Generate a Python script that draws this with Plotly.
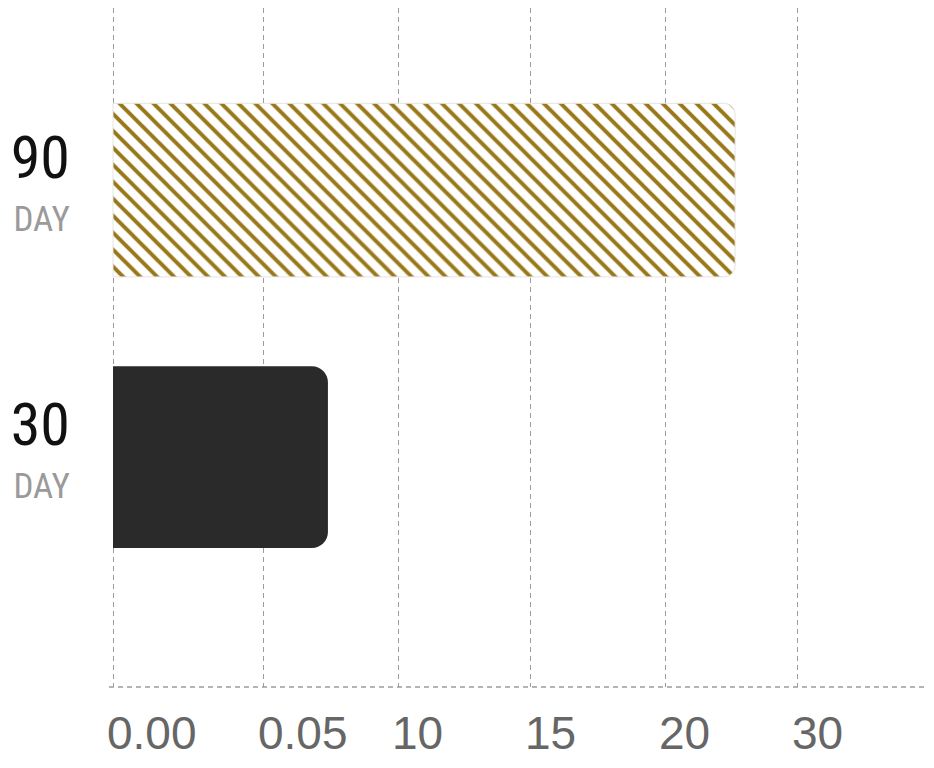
import plotly.graph_objects as go

# ---- data ----
categories = ["30", "90"]
category_sub = ["DAY", "DAY"]
bar_values = [1.61, 4.66]          # position along the (custom) x scale
tick_positions = [0, 1.131, 2.135, 3.131, 4.135, 5.131]
tick_labels = ["0.00", "0.05", "10", "15", "20", "30"]

GOLD = "#987818"
DARK = "#2a2a2a"
GRID = "#9c9c9c"

fig = go.Figure()

# 30 DAY bar (solid dark)
fig.add_trace(go.Bar(
    x=[bar_values[0]], y=[categories[0]], orientation="h",
    width=0.68,
    marker=dict(color=DARK, line=dict(width=0), cornerradius=16),
    showlegend=False, hoverinfo="x+y",
))

# 90 DAY bar (white with gold diagonal stripes)
fig.add_trace(go.Bar(
    x=[bar_values[1]], y=[categories[1]], orientation="h",
    width=0.65,
    marker=dict(
        color="white",
        line=dict(color="#e4e4e4", width=1),
        cornerradius=11,
        pattern=dict(shape="\\", fgcolor=GOLD, bgcolor="white",
                     size=12, solidity=0.33, fillmode="replace"),
    ),
    showlegend=False, hoverinfo="x+y",
))

ticktext_y = [
    f"<span style='font-size:60px;color:#111111'>{c}</span><br>"
    f"<span style='font-size:35px;color:#9a9a9a'>{s}</span>"
    for c, s in zip(categories, category_sub)
]

fig.update_layout(
    width=926, height=760,
    margin=dict(l=101, r=0, t=0, b=81),
    paper_bgcolor="white", plot_bgcolor="white",
    barmode="overlay",
    xaxis=dict(
        range=[-0.03, 6.15],
        tickvals=tick_positions, ticktext=tick_labels,
        showgrid=True, gridcolor=GRID, gridwidth=1.4, griddash="5px,4px",
        zeroline=False,
        showline=False,
        ticks="",
        ticklabelposition="outside right",
        ticklabelshift=-6,
        ticklabelstandoff=15,
        tickfont=dict(family="Liberation Sans, Arial, sans-serif", size=46, color="#666666"),
        automargin=False,
        fixedrange=True,
    ),
    yaxis=dict(
        type="category",
        categoryorder="array", categoryarray=categories,
        range=[-0.861, 1.682],
        tickvals=categories, ticktext=ticktext_y,
        showgrid=False, zeroline=False, showline=False, ticks="",
        ticklabelstandoff=38,
        tickfont=dict(family="Roboto Condensed, Open Sans Condensed, Liberation Sans Narrow, DejaVu Sans Condensed, sans-serif",
                      size=41, color="#9a9a9a"),
        automargin=False,
        fixedrange=True,
    ),
    shapes=[dict(
        type="line", xref="x domain", yref="y domain",
        x0=0, x1=1, y0=0, y1=0,
        line=dict(color=GRID, width=1.4, dash="5px,4px"),
        layer="below",
    )],
)

fig.write_html("out.html")
